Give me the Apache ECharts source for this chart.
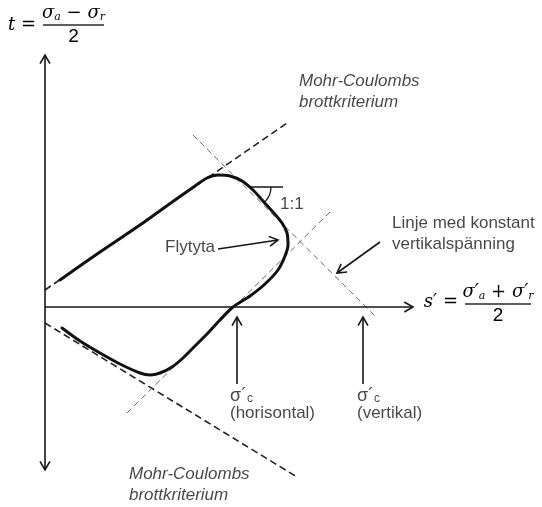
<!DOCTYPE html>
<html>
<head>
<meta charset="utf-8">
<script src="https://cdn.jsdelivr.net/npm/echarts@6/dist/echarts.min.js"></script>
<style>
  html, body { margin: 0; padding: 0; background: #fff; }
  #c { width: 542px; height: 507px; }
</style>
</head>
<body>
<div id="c"></div>
<script>
// Stress plane s'-t (schematic units), origin at the crossing of the two axes.

// Yield surface ("Flytyta"), traced counter-clockwise from the upper-left end
const yieldSurface = [
  [1.5, 2.7], [5.5, 5.5], [9.5, 8.2], [13.0, 10.7], [15.0, 12.1], [16.2, 12.9],
  [17.3, 13.2], [18.5, 13.1], [19.7, 12.6], [20.8, 11.7], [21.8, 10.6], [22.8, 9.5],
  [23.7, 8.4], [24.2, 7.4], [24.3, 6.2], [24.0, 5.1], [23.3, 3.7], [22.0, 2.3],
  [20.5, 1.1], [18.8, 0.0], [17.5, -1.3], [16.2, -2.7], [15.0, -3.9], [13.8, -5.1],
  [12.7, -6.0], [11.5, -6.6], [10.5, -6.8], [9.5, -6.6], [7.5, -5.7], [5.5, -4.6],
  [3.5, -3.4], [1.7, -2.1]
];

// Mohr-Coulomb failure lines (compression / extension)
const mcUpper = [[0, 1.7], [24.2, 18.4]];
const mcLower = [[0, -1.6], [25.2, -17.0]];

// 1:1 lines: constant vertical stress and the perpendicular one
const constVertical = [[14.8, 17.2], [33.2, -1.1]];
const crossLine = [[8.2, -10.6], [28.5, 9.5]];

// horizontal reference for the 1:1 slope mark, and the angle's corner
const slopeRef = [[20.5, 12.0], [23.8, 12.0]];
const slopeCorner = [[20.5, 12.0]];

// axes: [s0, t0, s1, t1, heads]
const axisArrows = [
  [0, -16.3, 0, 25.2, 2],
  [0, 0, 36.8, 0, 1]
];

// pointer arrows: [fromS, fromT, toS, toT, heads]
const pointerArrows = [
  [17.3, 5.8, 23.3, 6.7, 1],
  [33.5, 6.5, 29.2, 3.4, 1],
  [19.2, -7.7, 19.2, -1.0, 1],
  [31.8, -7.7, 31.8, -1.0, 1]
];

// annotation texts: [s, t, text]
const mcText = 'Mohr-Coulombs\nbrottkriterium';
const labelsItalic = [
  [25.4, 21.55, mcText],
  [8.4, -17.8, mcText]
];
const labelsPlain = [
  [12.0, 6.0, 'Flytyta'],
  [23.5, 10.3, '1:1'],
  [34.7, 7.3, 'Linje med konstant\nvertikalspänning']
];
const sigmaLabels = [
  [18.5, -9.8, 'horisontal'],
  [31.2, -9.8, 'vertikal']
];

// axis titles as fractions: [barLeftS, barT, index]
const axisFormulas = [
  [-0.2, 28.2, 0],
  [42.0, 0.3, 1]
];
const formulaParts = [
  { lhs: '{i|t}{o| =}', num: '{i|σ}{s|a}{o| − }{i|σ}{s|r}', den: '{d|2}', width: 61, lhsDy: 0 },
  { lhs: "{i|s′}{o| =}", num: "{i|σ′}{s|a}{o| + }{i|σ′}{s|r}", den: '{d|2}', width: 66, lhsDy: -2 }
];

const INK = '#161616';
const MATH = '#2a2a2a';
const SANS = '"Liberation Sans", Arial, sans-serif';
const SERIF = '"DejaVu Serif", "Liberation Serif", serif';

const mathRich = {
  i: { fontFamily: SERIF, fontStyle: 'italic', fontSize: 18, lineHeight: 20, color: MATH, verticalAlign: 'middle' },
  s: { fontFamily: SERIF, fontStyle: 'italic', fontSize: 11, lineHeight: 13, color: MATH, verticalAlign: 'bottom' },
  o: { fontFamily: SERIF, fontSize: 18, lineHeight: 20, color: MATH, verticalAlign: 'middle' },
  d: { fontFamily: '"Liberation Sans", sans-serif', fontSize: 19, lineHeight: 20, color: MATH, verticalAlign: 'middle' }
};

function arrowItem(params, api) {
  const a = api.coord([api.value(0), api.value(1)]);
  const b = api.coord([api.value(2), api.value(3)]);
  const both = api.value(4) === 2;
  const style = { stroke: INK, lineWidth: 1.6, fill: null, lineCap: 'butt', lineJoin: 'miter' };
  const head = function (tip, from) {
    const ang = Math.atan2(tip[1] - from[1], tip[0] - from[0]);
    const L = 10, w = 0.52;
    return {
      type: 'polyline',
      shape: { points: [
        [tip[0] - L * Math.cos(ang - w), tip[1] - L * Math.sin(ang - w)],
        [tip[0], tip[1]],
        [tip[0] - L * Math.cos(ang + w), tip[1] - L * Math.sin(ang + w)]
      ] },
      style: style
    };
  };
  const children = [
    { type: 'line', shape: { x1: a[0], y1: a[1], x2: b[0], y2: b[1] }, style: style },
    head(b, a)
  ];
  if (both) children.push(head(a, b));
  return { type: 'group', children: children };
}

function angleItem(params, api) {
  const c = api.coord([api.value(0), api.value(1)]);
  return {
    type: 'arc',
    shape: { cx: c[0], cy: c[1], r: 21, startAngle: 0, endAngle: Math.PI / 4, clockwise: true },
    style: { stroke: INK, lineWidth: 1.3, fill: null }
  };
}

function formulaItem(params, api) {
  const p = api.coord([api.value(0), api.value(1)]);
  const f = formulaParts[api.value(2)];
  const cx = p[0] + f.width / 2;
  return {
    type: 'group',
    children: [
      { type: 'line', shape: { x1: p[0], y1: p[1], x2: p[0] + f.width, y2: p[1] },
        style: { stroke: MATH, lineWidth: 1.3 } },
      { type: 'text', x: cx, y: p[1] - 12,
        style: { text: f.num, rich: mathRich, align: 'center', verticalAlign: 'middle' } },
      { type: 'text', x: cx, y: p[1] + 12,
        style: { text: f.den, rich: mathRich, align: 'center', verticalAlign: 'middle' } },
      { type: 'text', x: p[0] - 7, y: p[1] + f.lhsDy,
        style: { text: f.lhs, rich: mathRich, align: 'right', verticalAlign: 'middle' } }
    ]
  };
}

function lineSeries(data, style) {
  return {
    type: 'line', data: data, symbol: 'none', silent: true, animation: false,
    lineStyle: style, z: 2
  };
}

function textSeries(rows, labelOpt) {
  return {
    type: 'scatter', symbolSize: 0, silent: true, animation: false, z: 5,
    data: rows.map(function (r) { return { value: [r[0], r[1]], name: r[2] }; }),
    label: Object.assign({ show: true, position: [0, 0], align: 'left', verticalAlign: 'middle' }, labelOpt)
  };
}

const chart = echarts.init(document.getElementById('c'), null, { renderer: 'canvas' });
chart.setOption({
  backgroundColor: '#fff',
  animation: false,
  grid: { left: 0, right: 0, top: 0, bottom: 0, containLabel: false },
  xAxis: { type: 'value', min: -4.5, max: 49.7, show: false },
  yAxis: { type: 'value', min: -20, max: 30.7, show: false },
  series: [
    lineSeries(mcUpper, { color: '#222', width: 1.6, type: [7, 4] }),
    lineSeries(mcLower, { color: '#222', width: 1.6, type: [7, 4] }),
    lineSeries(constVertical, { color: '#666', width: 1, type: [6, 4] }),
    lineSeries(crossLine, { color: '#666', width: 1, type: [6, 4] }),
    lineSeries(slopeRef, { color: INK, width: 1.6, type: 'solid' }),
    Object.assign(lineSeries(yieldSurface, { color: '#111', width: 3, type: 'solid', cap: 'round', join: 'round' }),
      { smooth: 0.3, z: 3 }),
    { type: 'custom', renderItem: angleItem, data: slopeCorner, silent: true, animation: false, z: 3 },
    { type: 'custom', renderItem: arrowItem, data: axisArrows, silent: true, animation: false, z: 4,
      encode: { x: [0, 2], y: [1, 3] } },
    { type: 'custom', renderItem: arrowItem, data: pointerArrows, silent: true, animation: false, z: 4,
      encode: { x: [0, 2], y: [1, 3] } },
    { type: 'custom', renderItem: formulaItem, data: axisFormulas, silent: true, animation: false, z: 5 },
    textSeries(labelsItalic, {
      formatter: function (p) { return p.name; },
      fontFamily: SANS, fontStyle: 'italic', fontSize: 17, lineHeight: 21, color: INK
    }),
    textSeries(labelsPlain, {
      formatter: function (p) { return p.name; },
      fontFamily: SANS, fontSize: 17, lineHeight: 21, color: INK
    }),
    textSeries(sigmaLabels, {
      formatter: function (p) { return '{g|σ´}{c|c}\n{p|(' + p.name + ')}'; },
      rich: {
        g: { fontFamily: SANS, fontSize: 18, lineHeight: 17, color: INK, verticalAlign: 'middle' },
        c: { fontFamily: SANS, fontSize: 12, lineHeight: 11, color: INK, verticalAlign: 'bottom' },
        p: { fontFamily: SANS, fontSize: 17, lineHeight: 17, color: INK }
      }
    })
  ]
});
</script>
</body>
</html>
